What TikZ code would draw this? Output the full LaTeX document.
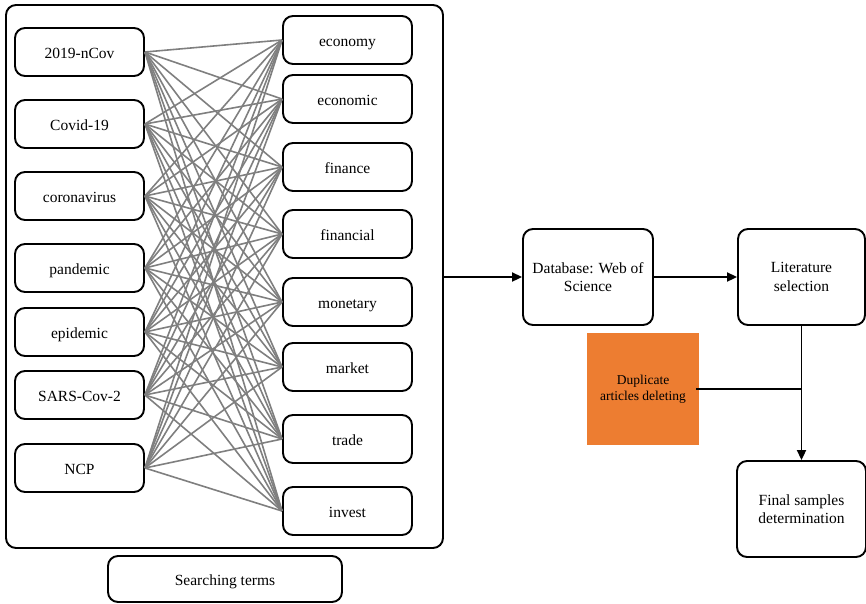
\documentclass[tikz,border=0pt]{standalone}
\usepackage{fontspec}
\setmainfont{LiberationSerif}[Extension=.ttf, UprightFont=*-Regular, BoldFont=*-Bold, ItalicFont=*-Italic]
\usetikzlibrary{arrows.meta}
\definecolor{dupor}{HTML}{ED7D31}
\definecolor{linkgray}{HTML}{7F7F7F}
\tikzset{
  box/.style={draw=black, line width=1.9pt, rounded corners=10pt, inner sep=0pt,
    align=center, font=\fontsize{15.5}{18.5}\selectfont},
  termbox/.style={box, minimum width=129pt, minimum height=48pt, text height=12pt, text depth=0pt},
  bigbox/.style={box, minimum width=129pt, minimum height=96pt},
  link/.style={draw=linkgray, line width=1.6pt},
  arr/.style={draw=black, line width=1.9pt, -{Triangle[length=10pt,width=9pt]}},
  plain/.style={draw=black, line width=1.9pt}
}
\begin{document}
\begin{tikzpicture}[x=1pt,y=-1pt]
\useasboundingbox (0,0) rectangle (866,603);
% outer container
\node[box, minimum width=437pt, minimum height=543pt] (outer) at (224.5,276.5) {};
% left terms
\node[termbox] (l1) at (79.5,52)  {2019-nCov};
\node[termbox] (l2) at (79.5,124) {Covid-19};
\node[termbox] (l3) at (79.5,196) {coronavirus};
\node[termbox] (l4) at (79.5,268) {pandemic};
\node[termbox] (l5) at (79.5,332) {epidemic};
\node[termbox] (l6) at (79.5,395) {SARS-Cov-2};
\node[termbox] (l7) at (79.5,468) {NCP};
% right terms
\node[termbox] (r1) at (347.5,40)  {economy};
\node[termbox] (r2) at (347.5,99)  {economic};
\node[termbox] (r3) at (347.5,167) {finance};
\node[termbox] (r4) at (347.5,234) {financial};
\node[termbox] (r5) at (347.5,302) {monetary};
\node[termbox] (r6) at (347.5,367) {market};
\node[termbox] (r7) at (347.5,439) {trade};
\node[termbox] (r8) at (347.5,511) {invest};
% links
\foreach \i in {1,...,7}{
  \foreach \j in {1,...,8}{
    \draw[link] (l\i.east) -- (r\j.west);
  }
}
% searching terms
\node[box, minimum width=234pt, minimum height=46pt, text height=12pt, text depth=0pt] (search) at (225,579) {Searching terms};
% flow
\node[bigbox, minimum width=130pt] (db) at (588,277) {Database: Web of\\Science};
\node[bigbox, minimum width=127pt] (lit) at (801.5,277) {Literature\\selection};
\node[bigbox] (final) at (801.5,509) {Final samples\\determination};
\node[fill=dupor, minimum width=112pt, minimum height=112pt, inner sep=0pt, align=center,
  font=\fontsize{13.5}{16}\selectfont] (dup) at (643,389) {Duplicate\\articles deleting};
\coordinate (join) at (lit.south |- dup.east);
\draw[arr] (outer.east |- db.west) -- (db.west);
\draw[arr] (db.east) -- (lit.west);
\draw[arr] (lit.south) -- (final.north);
\draw[plain] ([xshift=-3pt]dup.east) -- (join);
\end{tikzpicture}
\end{document}
